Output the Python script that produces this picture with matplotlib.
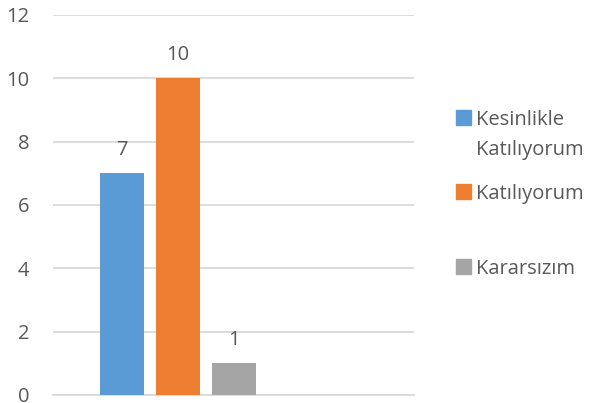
import matplotlib.pyplot as plt
from matplotlib.patches import Rectangle

# survey answers and counts
labels = ["Kesinlikle\nKatılıyorum", "Katılıyorum", "Kararsızım"]
counts = [7, 10, 1]
colors = ["#5B9BD5", "#ED7D31", "#A5A5A5"]
yticks = [0, 2, 4, 6, 8, 10, 12]

plt.rcParams['font.family'] = ['Open Sans', 'DejaVu Sans']
text_color = "#595959"
fs = 14.5

fig = plt.figure(figsize=(5.89, 4.03), dpi=100)
ax = fig.add_axes([53 / 589, 1 - 395 / 403, (414 - 53) / 589, (395 - 15) / 403])

xs = list(range(len(counts)))
ax.bar(xs, counts, width=44 / 56, color=colors, zorder=3)

for x, v in zip(xs, counts):
    ax.annotate(str(v), (x, v), xytext=(0, 13.5), textcoords="offset points",
                ha="center", va="baseline", fontsize=fs, color=text_color)

ax.set_xlim(-(122 - 53) / 56, (414 - 122) / 56)
ax.set_ylim(0, 12)
ax.set_yticks(yticks)
ax.set_xticks([])
ax.tick_params(axis="y", length=0, pad=17, labelsize=fs, labelcolor=text_color)
ax.grid(axis="y", color="#D9D9D9", linewidth=1.3, zorder=0)
for s in ["top", "right", "left"]:
    ax.spines[s].set_visible(False)
ax.spines["bottom"].set_color("#D9D9D9")
ax.spines["bottom"].set_linewidth(1.3)

# legend drawn by hand to match the uneven spacing
legend_y = [117.5, 191, 266]
for lab, col, yy in zip(labels, colors, legend_y):
    fig.patches.append(Rectangle((456 / 589, 1 - (yy + 7.5) / 403), 15 / 589, 15 / 403,
                                 transform=fig.transFigure, color=col))
    for i, line in enumerate(lab.split("\n")):
        base = yy + 7.5 + i * 29.5
        fig.text(476 / 589, 1 - base / 403, line, ha="left", va="baseline",
                 fontsize=fs, color=text_color)

fig.savefig("out.png", dpi=100)
